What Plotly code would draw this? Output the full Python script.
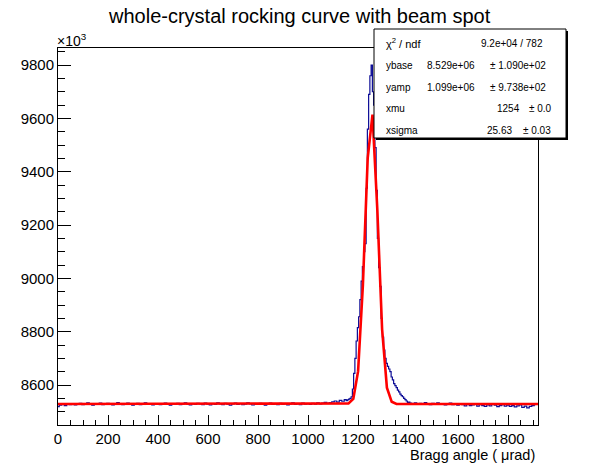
import plotly.graph_objects as go

# histogram contents (units of 10^3 counts)
angle_base_left = list(range(0, 1160, 10))
counts_base_left = [
    8519, 8524, 8527, 8523, 8529, 8526, 8530, 8525, 8528, 8531,
    8526, 8529, 8533, 8527, 8524, 8530, 8528, 8532, 8526, 8529,
    8531, 8527, 8525, 8530, 8534, 8528, 8526, 8529, 8532, 8527,
    8524, 8528, 8531, 8526, 8529, 8533, 8527, 8530, 8525, 8528,
    8530, 8526, 8529, 8532, 8527, 8524, 8530, 8528, 8531, 8526,
    8529, 8533, 8528, 8525, 8530, 8527, 8531, 8529, 8526, 8532,
    8528, 8525, 8530, 8527, 8533, 8529, 8526, 8531, 8528, 8524,
    8529, 8532, 8527, 8530, 8526, 8528, 8533, 8529, 8525, 8530,
    8527, 8531, 8528, 8524, 8530, 8532, 8527, 8529, 8526, 8531,
    8528, 8530, 8525, 8529, 8533, 8527, 8530, 8526, 8532, 8528,
    8530, 8527, 8531, 8528, 8533, 8529, 8532, 8535, 8531, 8534,
    8537, 8540, 8536, 8542, 8539, 8545,
]

angle_peak = list(range(1155, 1415, 5))
counts_peak = [
    8541, 8544, 8547, 8550, 8556, 8585, 8644, 8700, 8765, 8815,
    8856, 8920, 8990, 9044, 9100, 9130, 9338, 9560, 9690, 9760,
    9800, 9700, 9650, 9490, 9330, 9150, 9040, 8970, 8850, 8780,
    8731, 8700, 8681, 8670, 8660, 8650, 8630, 8619, 8605, 8598,
    8590, 8581, 8574, 8566, 8560, 8556, 8550, 8545, 8540, 8535,
    8536, 8532,
]

angle_base_right = list(range(1420, 1920, 10))
counts_base_right = [
    8529, 8533, 8527, 8531, 8528, 8534, 8530, 8526,
    8531, 8528, 8533, 8527, 8530, 8525, 8529, 8532, 8526, 8528,
    8524, 8529, 8526, 8522, 8527, 8523, 8525, 8528, 8521, 8526,
    8523, 8520, 8525, 8522, 8527, 8524, 8519, 8523, 8526, 8521,
    8524, 8520, 8523, 8518, 8522, 8525, 8516, 8521, 8514, 8520,
    8523, 8526,
]

angle = angle_base_left + angle_peak + angle_base_right
counts = counts_base_left + counts_peak + counts_base_right

# fitted gaussian + constant, as drawn (coarse polyline vertices)
fit_angle = [0, 1142.8, 1162, 1181.2, 1200.4, 1219.6, 1238.8, 1258,
             1277.2, 1296.4, 1315.6, 1334.8, 1354, 1920]
fit_counts = [8529, 8529, 8531, 8548, 8652, 8975, 9451, 9614,
              9259, 8809, 8590, 8537, 8529, 8529]

# stats box rows: name, value, error
stat_names = ["ybase", "yamp", "xmu", "xsigma"]
stat_values = ["8.529e+06", "1.099e+06", "1254", "25.63"]
stat_errors = ["± 1.090e+02", "± 9.738e+02", "± 0.0", "± 0.03"]
chi2_text = "9.2e+04 / 782"

# frame in pixels
W, H = 598, 474
L, R, T, B = 58, 538, 48, 425
FONT = "Liberation Sans, Arial, Helvetica, sans-serif"


def px(x):
    return (x - L) / (R - L)


def py(y):
    return (B - y) / (B - T)


fig = go.Figure()

fig.add_trace(go.Scatter(
    x=angle, y=counts, mode="lines",
    line=dict(color="#0c0c96", width=1.2, shape="hvh"),
    hoverinfo="skip", showlegend=False,
))

fig.add_trace(go.Scatter(
    x=fit_angle, y=fit_counts, mode="lines",
    line=dict(color="#ff0000", width=2.6),
    hoverinfo="skip", showlegend=False,
))

axis_common = dict(
    showline=True, linecolor="black", linewidth=1, mirror=True,
    showgrid=False, zeroline=False, ticks="inside", tickcolor="black",
    tickformat="d", automargin=False,
    tickfont=dict(family=FONT, size=15, color="black"),
)

fig.update_xaxes(
    range=[0, 1920], tick0=0, dtick=200, ticklen=10,
    minor=dict(dtick=50, ticks="inside", ticklen=5, tickcolor="black"),
    **axis_common,
)
fig.update_yaxes(
    range=[8450, 9864], tick0=0, dtick=200, ticklen=13,
    minor=dict(dtick=50, ticks="inside", ticklen=7, tickcolor="black"),
    **axis_common,
)

annotations = [
    dict(text="whole-crystal rocking curve with beam spot", x=px(299.5), y=py(16),
         xanchor="center", yanchor="middle", font=dict(size=20)),
    dict(text="Bragg angle ( μrad)", x=px(537), y=py(455),
         xanchor="right", yanchor="middle", font=dict(size=14.5)),
    dict(text="×10<sup>3</sup>", x=px(55), y=py(40),
         xanchor="left", yanchor="middle", font=dict(size=14)),
    dict(text="χ<sup>2</sup> / ndf", x=px(384), y=py(43),
         xanchor="left", yanchor="middle", font=dict(size=11)),
    dict(text=chi2_text, x=px(545), y=py(43),
         xanchor="right", yanchor="middle", font=dict(size=10)),
]

row_y = [65.5, 87, 108.5, 130]
value_right = [477, 477, 522, 514]
error_right = [548, 548, 554, 553]
for name, val, err, yy, vr, er in zip(stat_names, stat_values, stat_errors,
                                      row_y, value_right, error_right):
    annotations.append(dict(text=name, x=px(384), y=py(yy), xanchor="left",
                            yanchor="middle", font=dict(size=10)))
    annotations.append(dict(text=val, x=px(vr), y=py(yy), xanchor="right",
                            yanchor="middle", font=dict(size=10)))
    annotations.append(dict(text=err, x=px(er), y=py(yy), xanchor="right",
                            yanchor="middle", font=dict(size=10)))

for a in annotations:
    a.update(xref="paper", yref="paper", showarrow=False)
    a["font"].update(family=FONT, color="black")

shapes = [
    # stats box shadow then box
    dict(type="rect", x0=px(376), x1=px(568), y0=py(140), y1=py(31),
         fillcolor="black", line=dict(width=0)),
    dict(type="rect", x0=px(374), x1=px(566), y0=py(138), y1=py(29),
         fillcolor="white", line=dict(color="black", width=1)),
]
for s in shapes:
    s.update(xref="paper", yref="paper", layer="above")

fig.update_layout(
    width=W, height=H,
    margin=dict(l=L, r=W - R, t=T, b=H - B),
    paper_bgcolor="white", plot_bgcolor="white",
    annotations=annotations, shapes=shapes,
    font=dict(family=FONT, color="black"),
)

# drop the page's default body margin so the figure sits at the window corner
fig.write_html("out.html", config={"displayModeBar": False},
               post_script="document.body.style.margin='0';")
